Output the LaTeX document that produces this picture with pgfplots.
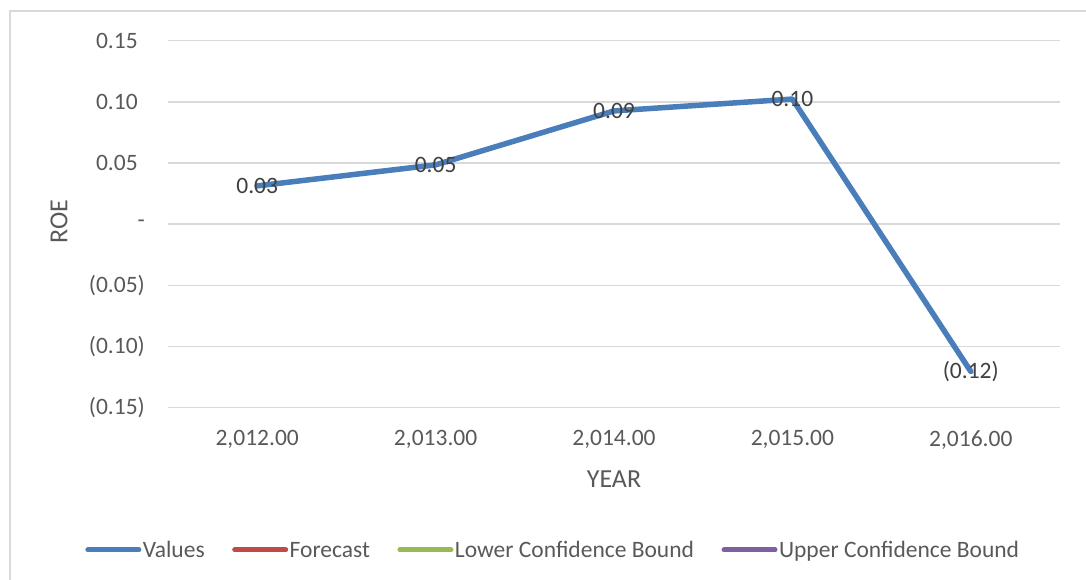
\documentclass[border=0pt]{standalone}
\usepackage{fontspec}
\setmainfont{Carlito}
\usepackage{pgfplots}
\usepackage{pgfplotstable}
\pgfplotsset{compat=1.18}
\definecolor{exblue}{HTML}{4A7EBB}
\definecolor{exred}{HTML}{BE4B48}
\definecolor{exgreen}{HTML}{98B954}
\definecolor{expurple}{HTML}{7D60A0}
\definecolor{gridgray}{HTML}{D9D9D9}
\definecolor{txtgray}{HTML}{595959}
\definecolor{lblgray}{HTML}{404040}
\pgfplotstableread{
x y label
0 0.0313 0.03
1 0.0485 0.05
2 0.0926 0.09
3 0.1023 0.10
4 -0.1204 (0.12)
}\roedata
\begin{document}
\begin{tikzpicture}
\path[use as bounding box] (-168pt,-172.3pt) rectangle (918pt,407.7pt);
\draw[gridgray, line width=1.5pt] (-158pt,-200pt) |- (950pt,396.7pt);
\begin{axis}[
  at={(0pt,0pt)}, anchor=south west,
  scale only axis, width=892pt, height=367pt,
  xmin=-0.5, xmax=4.5, ymin=-0.15, ymax=0.15,
  clip=false,
  axis line style={draw=none},
  major tick length=0pt,
  tick style={draw=none},
  ymajorgrids,
  grid style={gridgray, line width=1.4pt},
  xtick={0,1,2,3,4},
  xticklabels={{2,012.00},{2,013.00},{2,014.00},{2,015.00},{2,016.00}},
  ytick={-0.15,-0.10,-0.05,0,0.05,0.10,0.15},
  yticklabels={(0.15),(0.10),(0.05),{-\hspace{16pt}},{0.05\hphantom{)}},{0.10\hphantom{)}},{0.15\hphantom{)}}},
  /pgf/number format/assume math mode=true,
  ticklabel style={font=\fontsize{23.5}{28}\selectfont, text=txtgray, inner sep=0pt},
  yticklabel style={anchor=east, xshift=-23pt},
  xticklabel style={anchor=north, yshift=-22.3pt},
  xlabel={YEAR}, ylabel={ROE},
  every axis x label/.style={at={(axis description cs:0.5,0)}, yshift=-71.3pt, anchor=center,
    font=\fontsize{26}{31}\selectfont, text=txtgray, inner sep=0pt},
  every axis y label/.style={at={(axis description cs:0,0.506)}, xshift=-109pt, rotate=90, anchor=center,
    font=\fontsize{26}{31}\selectfont, text=txtgray, inner sep=0pt},
  legend columns=4,
  legend style={at={(rel axis cs:0.4316,-0.396)}, anchor=center, draw=none, fill=none,
    font=\fontsize{23.5}{28}\selectfont, text=txtgray,
    column sep=0pt,
    /tikz/every even column/.append style={column sep=26pt},
    nodes={inner sep=1.5pt, text height=0.66em, text depth=0pt}},
  legend image code/.code={\draw[#1, line width=5pt, line cap=round] (2.5pt,4pt) -- (53.5pt,4pt);},
]
\addplot[exblue, line width=5.5pt, line cap=round, line join=round,
  nodes near coords, point meta=explicit symbolic,
  every node near coord/.append style={anchor=center, inner sep=0pt,
    font=\fontsize{23.5}{28}\selectfont, text=lblgray}]
  table[x=x, y=y, meta=label]{\roedata};
\addlegendentry{Values}
\addlegendimage{exred}
\addlegendentry{Forecast}
\addlegendimage{exgreen}
\addlegendentry{Lower Confidence Bound}
\addlegendimage{expurple}
\addlegendentry{Upper Confidence Bound}
\end{axis}
\end{tikzpicture}
\end{document}
